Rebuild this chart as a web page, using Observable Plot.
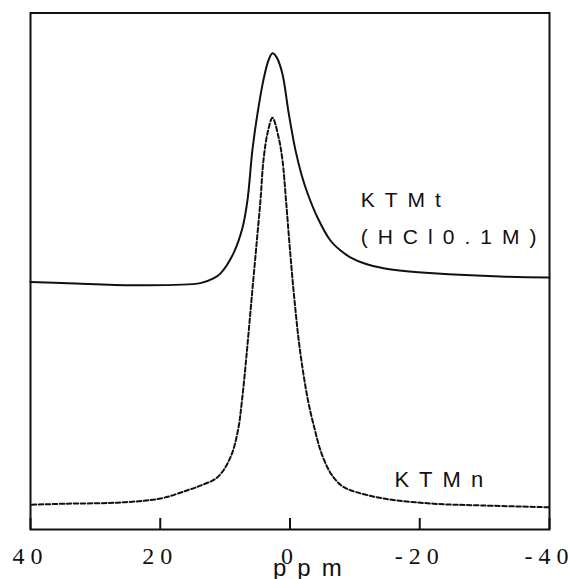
<!DOCTYPE html>
<html>
<head>
<meta charset="utf-8">
<script src="https://cdn.jsdelivr.net/npm/d3@7"></script>
<script src="https://cdn.jsdelivr.net/npm/@observablehq/plot@0.6"></script>
<style>
  html, body { margin: 0; padding: 0; background: #fff; }
  #chart { width: 571px; height: 579px; overflow: hidden; }
</style>
</head>
<body>
<div id="chart"></div>
<script>
// KTMt (HCl 0.1M) — solid trace
const ppmT = [40, 34.3, 24.1, 13.8, 11.8, 10.7, 8.7, 7.3, 6.55, 5.8, 5.0, 4.1, 3.3, 2.7, 2.1, 1.2, 0.2, -0.85, -1.8, -2.7, -4.2, -6.2, -7.8, -9.3, -11.5, -14.4, -18, -22.1, -32.4, -40];
const intT = [47.9, 47.7, 47.3, 47.7, 48.6, 49.6, 53.5, 58.5, 63.8, 73.4, 80.6, 87.0, 90.9, 92.2, 91.5, 88.4, 80.6, 73.4, 68.6, 65.1, 60.5, 56.0, 54.0, 52.7, 51.5, 50.6, 50.0, 49.6, 49.0, 48.8];

// KTMn — dashed trace
const ppmN = [39.8, 34.3, 26.6, 19.96, 15.8, 13.8, 11.18, 9.17, 8.02, 7.4, 6.63, 5.94, 5.24, 4.55, 4.09, 3.47, 2.7, 1.77, 1.16, 0.62, 0.0, -0.69, -1.54, -2.77, -3.85, -4.7, -5.78, -6.71, -7.94, -9.33, -14.4, -22.1, -29.8, -40];
const intN = [4.8, 5.0, 5.2, 6.0, 7.6, 8.5, 10.1, 14.0, 19.2, 25.0, 34.7, 44.4, 54.1, 63.8, 71.5, 76.7, 79.7, 76.0, 71.5, 63.8, 54.1, 44.4, 34.7, 25.0, 19.2, 15.3, 12.0, 10.1, 8.5, 7.6, 6.0, 5.0, 4.65, 4.3];

// axis ticks
const xTicks = [40, 20, 0, -20, -40];
const xTitle = "ppm";

// annotations
const labelText = ["KTMt", "(HCl0.1M)", "KTMn"];
const labelPpm = [-10.9, -10.9, -16.1];
const labelInt = [62.5, 55.2, 8.2];

const tableT = ppmT.map((p, k) => ({ppm: p, i: intT[k]}));
const tableN = ppmN.map((p, k) => ({ppm: p, i: intN[k]}));
const labels = labelText.map((t, k) => ({t, ppm: labelPpm[k], i: labelInt[k]}));

const W = 571, H = 579;
const mTop = 12.5, mBottom = 50;
const innerH = H - mTop - mBottom;

const chart = Plot.plot({
  width: W,
  height: H,
  marginTop: mTop,
  marginBottom: mBottom,
  marginLeft: 30,
  marginRight: 22,
  style: {background: "white", color: "#111"},
  x: {domain: [40, -40], label: null},
  y: {domain: [0, 100], axis: null, label: null},
  marks: [
    Plot.line(tableT, {x: "ppm", y: "i", stroke: "#111", strokeWidth: 2, curve: "catmull-rom"}),
    Plot.line(tableN, {x: "ppm", y: "i", stroke: "#111", strokeWidth: 2, strokeDasharray: "4.5,2.5", curve: "catmull-rom"}),
    Plot.frame({stroke: "#111", strokeWidth: 2}),
    Plot.tickX(xTicks, {x: d => d, insetTop: innerH - 11, stroke: "#111", strokeWidth: 2}),
    Plot.axisX(xTicks, {tickSize: 0, tickPadding: 17, fontSize: 24, fontFamily: "Liberation Serif, Times New Roman, serif", tickFormat: d => String(d), label: null}),
    Plot.text([{x: 0, t: xTitle}], {x: "x", text: "t", frameAnchor: "bottom", dy: 46.5, dx: -17, textAnchor: "start", lineAnchor: "bottom", fontSize: 24, fontFamily: "Liberation Sans, Arial, sans-serif", fill: "#111"}),
    Plot.text(labels, {x: "ppm", y: "i", text: "t", textAnchor: "start", lineAnchor: "bottom", fontSize: 21, fontFamily: "Liberation Sans, Arial, sans-serif", fill: "#111"})
  ]
});

const tickStrings = xTicks.map(String);
chart.querySelectorAll("text").forEach(el => {
  const s = el.textContent;
  if (tickStrings.includes(s)) el.style.letterSpacing = "6px";
  else if (s === xTitle) el.style.letterSpacing = "11px";
  else if (labelText.includes(s)) {
    el.style.letterSpacing = "10px";
    if (s === "KTMn") el.style.fontSize = "22px";
  }
});

document.getElementById("chart").appendChild(chart);
</script>
</body>
</html>
